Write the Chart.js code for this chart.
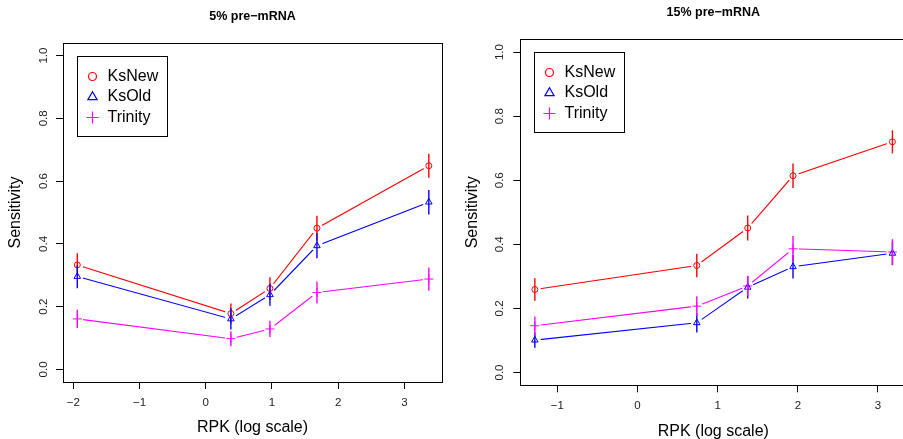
<!DOCTYPE html>
<html>
<head>
<meta charset="utf-8">
<script src="https://cdn.jsdelivr.net/npm/chart.js@4.4.1/dist/chart.umd.min.js"></script>
<style>
  html, body { margin: 0; padding: 0; background: #fff; overflow: hidden; }
  #wrap { position: relative; width: 903px; height: 439px; overflow: hidden; background: #fff; }
  canvas { position: absolute; top: 0; }
</style>
</head>
<body>
<div id="wrap">
  <canvas id="left" width="460" height="439" style="left:0px"></canvas>
  <canvas id="right" width="460" height="445" style="left:455px"></canvas>
</div>
<script>
// ---------------- data ----------------
const seriesNames = ["KsNew", "KsOld", "Trinity"];
const yTicks = [0, 0.2, 0.4, 0.6, 0.8, 1.0];

// 5% pre-mRNA
const xTicksA = [-2, -1, 0, 1, 2, 3];
const rpkA = [-1.94, 0.38, 0.97, 1.68, 3.37];
const ksNewA = [0.333, 0.178, 0.258, 0.450, 0.649];
const ksOldA = [0.296, 0.161, 0.238, 0.394, 0.533];
const trinityA = [0.161, 0.098, 0.129, 0.245, 0.288];
const ksNewErrA = [0.037, 0.032, 0.036, 0.040, 0.038];
const ksOldErrA = [0.037, 0.034, 0.035, 0.040, 0.039];
const trinityErrA = [0.029, 0.024, 0.026, 0.035, 0.037];

// 15% pre-mRNA
const xTicksB = [-1, 0, 1, 2, 3];
const rpkB = [-1.28, 0.74, 1.375, 1.94, 3.18];
const ksNewB = [0.259, 0.334, 0.451, 0.614, 0.720];
const ksOldB = [0.101, 0.155, 0.266, 0.330, 0.372];
const trinityB = [0.146, 0.207, 0.270, 0.386, 0.376];
const ksNewErrB = [0.035, 0.037, 0.039, 0.038, 0.036];
const ksOldErrB = [0.024, 0.030, 0.035, 0.037, 0.037];
const trinityErrB = [0.029, 0.031, 0.032, 0.040, 0.040];

// ---------------- styles ----------------
const FONT = "'Liberation Sans', Arial, Helvetica, sans-serif";
Chart.defaults.font.family = FONT;
Chart.defaults.color = "#000";

const colors = { KsNew: "#ff0000", KsOld: "#0000ff", Trinity: "#ff00ff" };
const shapes = { KsNew: "circle", KsOld: "triangle", Trinity: "cross" };
const markerSize = { KsNew: 3, KsOld: 3.8, Trinity: 4.5 };
const legendSize = { KsNew: 4, KsOld: 5.3, Trinity: 6 };

function pts(xs, ys) {
  return xs.map((x, i) => ({ x: x, y: ys[i] }));
}

function buildDatasets(xs, ys, errs) {
  const out = [];
  seriesNames.forEach((name, k) => {
    out.push({
      label: name,
      data: pts(xs, ys[k]),
      err: errs[k],
      showLine: false,
      pointStyle: shapes[name],
      pointRadius: markerSize[name],
      pointBorderWidth: 1,
      borderColor: colors[name],
      backgroundColor: "transparent",
    });
  });
  seriesNames.forEach((name, k) => {
    out.push({
      label: name + " line",
      data: pts(xs, ys[k]),
      gapLine: true,
      showLine: true,
      pointRadius: 0,
      borderWidth: 1.1,
      borderColor: colors[name],
      backgroundColor: "transparent",
    });
  });
  return out;
}

function drawSymbol(ctx, shape, x, y, r, color) {
  ctx.save();
  ctx.strokeStyle = color;
  ctx.lineWidth = 1.2;
  ctx.beginPath();
  if (shape === "circle") {
    ctx.arc(x, y, r, 0, Math.PI * 2);
  } else if (shape === "triangle") {
    ctx.moveTo(x, y - r);
    ctx.lineTo(x + r * 0.866, y + r / 2);
    ctx.lineTo(x - r * 0.866, y + r / 2);
    ctx.closePath();
  } else {
    ctx.moveTo(x - r, y);
    ctx.lineTo(x + r, y);
    ctx.moveTo(x, y - r);
    ctx.lineTo(x, y + r);
  }
  ctx.stroke();
  ctx.restore();
}

// R "type=b" look: leave a gap in each line round its own points
const gapPlugin = {
  id: "gaps",
  beforeDatasetDraw(chart, args) {
    const ds = chart.data.datasets[args.index];
    if (!ds.gapLine) return;
    const ctx = chart.ctx;
    const meta = chart.getDatasetMeta(args.index);
    ctx.save();
    ctx.beginPath();
    ctx.rect(0, 0, chart.width, chart.height);
    meta.data.forEach((p) => {
      ctx.moveTo(p.x + 6, p.y);
      ctx.arc(p.x, p.y, 6, 0, Math.PI * 2);
    });
    ctx.clip("evenodd");
  },
  afterDatasetDraw(chart, args) {
    if (chart.data.datasets[args.index].gapLine) chart.ctx.restore();
  },
};

const errorBars = {
  id: "errorBars",
  afterDatasetsDraw(chart) {
    const ctx = chart.ctx;
    const ys = chart.scales.y;
    chart.data.datasets.forEach((ds, i) => {
      if (!ds.err) return;
      const meta = chart.getDatasetMeta(i);
      ctx.save();
      ctx.strokeStyle = ds.borderColor;
      ctx.lineWidth = 1.4;
      ds.data.forEach((d, j) => {
        const px = meta.data[j].x;
        ctx.beginPath();
        ctx.moveTo(px, ys.getPixelForValue(d.y - ds.err[j]));
        ctx.lineTo(px, ys.getPixelForValue(d.y + ds.err[j]));
        ctx.stroke();
      });
      ctx.restore();
    });
  },
};

const plotBox = {
  id: "plotBox",
  beforeDatasetsDraw(chart) {
    const a = chart.chartArea;
    const ctx = chart.ctx;
    ctx.save();
    ctx.strokeStyle = "#000";
    ctx.lineWidth = 1;
    ctx.strokeRect(Math.round(a.left) + 0.5, Math.round(a.top) + 0.5,
      Math.round(a.right - a.left), Math.round(a.bottom - a.top));
    ctx.restore();
  },
};

const boxLegend = {
  id: "boxLegend",
  afterDraw(chart, args, o) {
    const a = chart.chartArea;
    const ctx = chart.ctx;
    const bx = Math.round(a.left + o.dx) + 0.5;
    const by = Math.round(a.top + o.dy) + 0.5;
    ctx.save();
    ctx.strokeStyle = "#000";
    ctx.lineWidth = 1;
    ctx.strokeRect(bx, by, o.w, o.h);
    ctx.font = "16px " + FONT;
    ctx.textBaseline = "middle";
    ctx.textAlign = "left";
    seriesNames.forEach((name, k) => {
      const cy = by + o.rows[k];
      drawSymbol(ctx, shapes[name], bx + 15, cy, legendSize[name], colors[name]);
      ctx.fillStyle = "#000";
      ctx.fillText(name, bx + 30, cy);
    });
    ctx.restore();
  },
};

function minusLabel(v) {
  return v < 0 ? "\u2212" + Math.abs(v) : String(v);
}

function makeConfig(p) {
  return {
    type: "scatter",
    data: { datasets: buildDatasets(p.xs, p.ys, p.errs) },
    options: {
      responsive: false,
      animation: false,
      layout: { padding: { left: 0, top: 0, right: p.padRight, bottom: 0 } },
      plugins: {
        legend: { display: false },
        tooltip: { enabled: false },
        title: {
          display: true,
          fullSize: false,
          text: p.title,
          font: { size: 12.5, weight: "bold", lineHeight: 1.2 },
          color: "#000",
          padding: { top: p.titleTop, bottom: p.titleBottom },
        },
        boxLegend: { dx: 14, dy: 12.5, w: 90, h: 80, rows: [20, 40.5, 61] },
      },
      scales: {
        x: {
          type: "linear",
          min: p.xMin,
          max: p.xMax,
          afterBuildTicks: (s) => { s.ticks = p.xTicks.map((v) => ({ value: v })); },
          afterFit: (s) => { s.height = p.xHeight; },
          border: { display: false },
          grid: { drawOnChartArea: false, color: "#000", tickLength: 7, tickWidth: 1 },
          ticks: { padding: 6.8, color: "#222", font: { size: 11.5 }, callback: minusLabel, maxRotation: 0 },
          title: {
            display: true,
            text: "RPK (log scale)",
            font: { size: 16 },
            color: "#000",
            padding: { top: 0, bottom: p.xTitleBottom },
          },
        },
        y: {
          type: "linear",
          min: -0.04,
          max: 1.04,
          afterBuildTicks: (s) => { s.ticks = yTicks.map((v) => ({ value: v })); },
          afterFit: (s) => { s.width = p.yWidth; },
          border: { display: false },
          grid: { drawOnChartArea: false, color: "#000", tickLength: 7, tickWidth: 1 },
          ticks: {
            padding: p.yTickPad,
            color: "#222",
            font: { size: 11.5 },
            minRotation: 90,
            maxRotation: 90,
            crossAlign: "center",
            callback: (v) => v.toFixed(1),
          },
          title: {
            display: true,
            text: "Sensitivity",
            font: { size: 16 },
            color: "#000",
            padding: { top: p.yTitleTop, bottom: 0 },
          },
        },
      },
    },
    plugins: [plotBox, gapPlugin, errorBars, boxLegend],
  };
}

const chartA = new Chart(document.getElementById("left"), makeConfig({
  title: "5% pre\u2212mRNA",
  xs: rpkA,
  ys: [ksNewA, ksOldA, trinityA],
  errs: [ksNewErrA, ksOldErrA, trinityErrA],
  xTicks: xTicksA,
  xMin: -2.156, xMax: 3.569,
  padRight: 18,
  titleTop: 9.2, titleBottom: 18.8,
  yWidth: 63, yTickPad: 4.5, yTitleTop: 6.1,
  xHeight: 57, xTitleBottom: 1.7,
}));

const chartB = new Chart(document.getElementById("right"), makeConfig({
  title: "15% pre\u2212mRNA",
  xs: rpkB,
  ys: [ksNewB, ksOldB, trinityB],
  errs: [ksNewErrB, ksOldErrB, trinityErrB],
  xTicks: xTicksB,
  xMin: -1.4615, xMax: 3.353,
  padRight: 8.7,
  titleTop: 5.2, titleBottom: 19.1,
  yWidth: 65.3, yTickPad: 5.3, yTitleTop: 8.1,
  xHeight: 59.7, xTitleBottom: 4.0,
}));
</script>
</body>
</html>
